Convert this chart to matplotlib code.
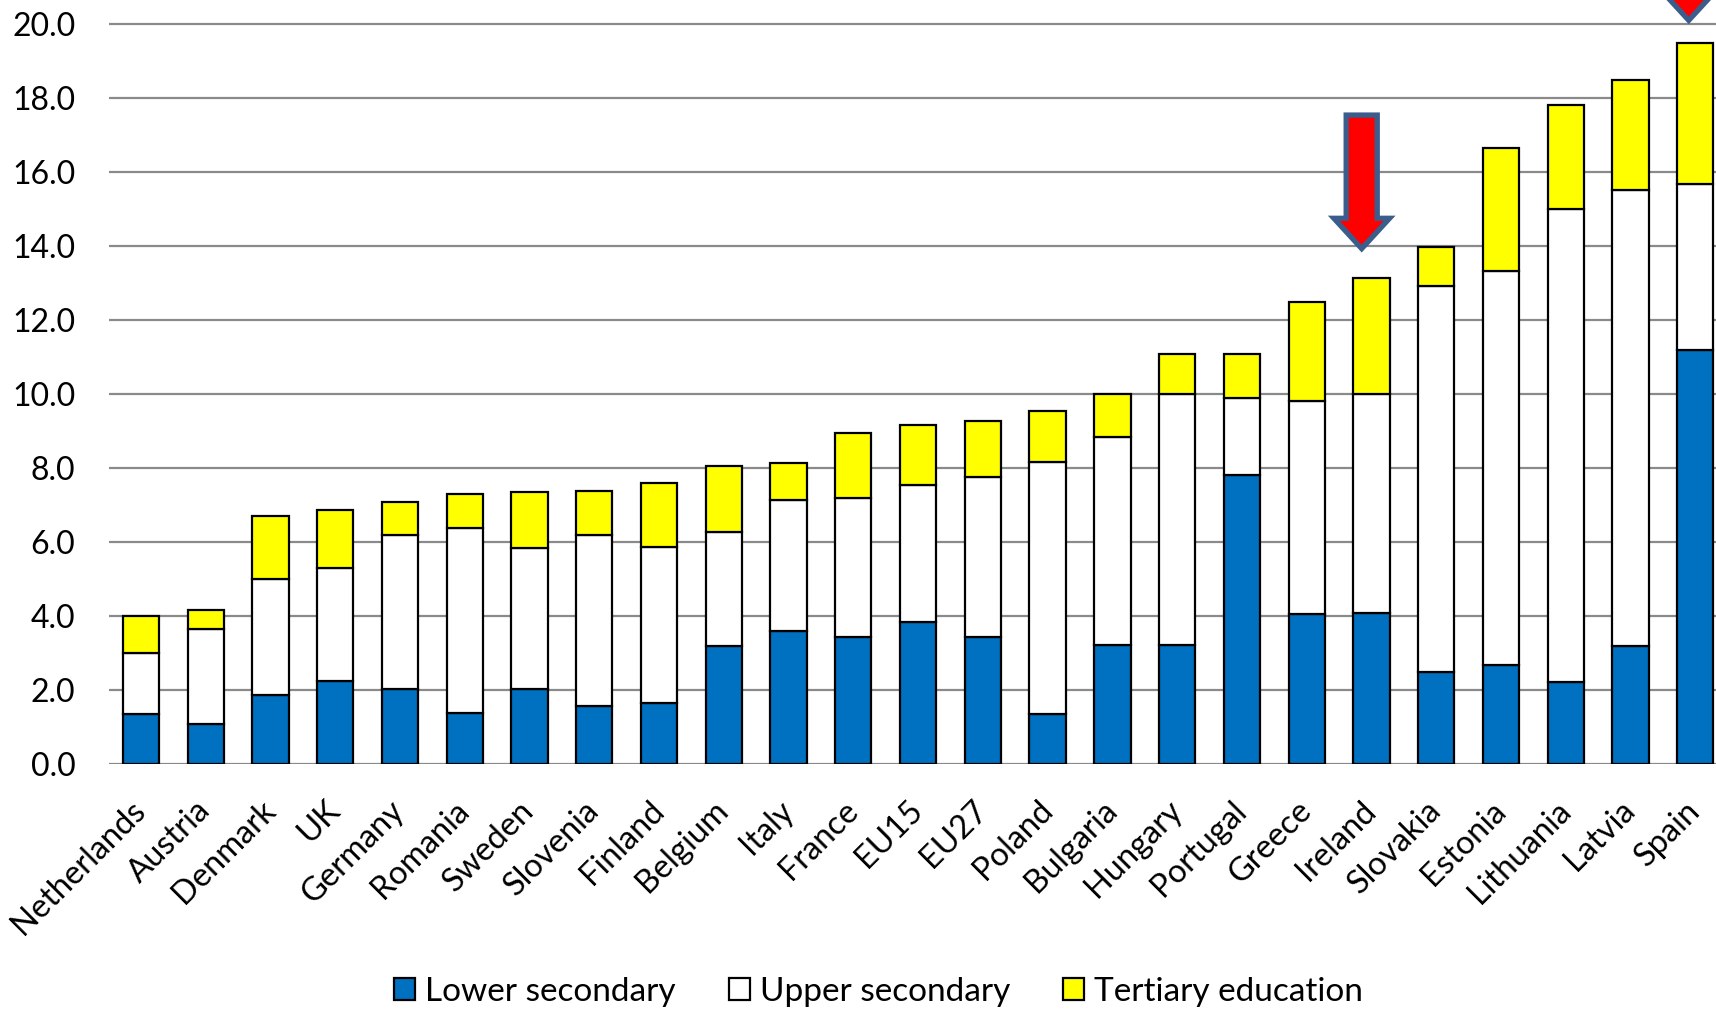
import matplotlib
matplotlib.use("Agg")
import matplotlib.pyplot as plt
from matplotlib.patches import Patch, Polygon

plt.rcParams['font.family'] = ['Lato', 'DejaVu Sans']

countries = ["Netherlands", "Austria", "Denmark", "UK", "Germany", "Romania",
             "Sweden", "Slovenia", "Finland", "Belgium", "Italy", "France",
             "EU15", "EU27", "Poland", "Bulgaria", "Hungary", "Portugal",
             "Greece", "Ireland", "Slovakia", "Estonia", "Lithuania", "Latvia",
             "Spain"]

# unemployment rate split by education level (stacked)
lower_secondary = [1.35, 1.08, 1.87, 2.24, 2.03, 1.39, 2.03, 1.56, 1.66, 3.18,
                   3.59, 3.43, 3.84, 3.43, 1.35, 3.22, 3.22, 7.80, 4.05, 4.08,
                   2.48, 2.67, 2.21, 3.20, 11.20]
upper_secondary = [1.65, 2.56, 3.12, 3.06, 4.16, 5.00, 3.81, 4.62, 4.21, 3.10,
                   3.54, 3.75, 3.71, 4.33, 6.81, 5.62, 6.77, 2.09, 5.77, 5.93,
                   10.44, 10.65, 12.78, 12.32, 4.48]
tertiary = [1.00, 0.52, 1.72, 1.57, 0.90, 0.90, 1.51, 1.20, 1.73, 1.78,
            1.00, 1.77, 1.61, 1.51, 1.37, 1.16, 1.10, 1.20, 2.68, 3.12,
            1.05, 3.34, 2.82, 2.97, 3.81]

series_names = ["Lower secondary", "Upper secondary", "Tertiary education"]
series_colors = ["#0070C0", "#FFFFFF", "#FFFF00"]

# highlighted bars: (category, x offset, tip, head base, shaft top)
arrows = [("Ireland", -0.15, 13.93, 14.75, 17.54),
          ("Spain", -0.10, 20.10, 20.92, 24.0)]

fig = plt.figure(figsize=(17.16, 10.09), dpi=100)
ax = fig.add_axes([108.6 / 1716, 245 / 1009, 1619 / 1716, 764 / 1009])

x = list(range(len(countries)))
bottom = [0.0] * len(countries)
for vals, name, col in zip([lower_secondary, upper_secondary, tertiary],
                           series_names, series_colors):
    ax.bar(x, vals, bottom=bottom, width=0.56, color=col, edgecolor="black",
           linewidth=1.6, label=name, zorder=3)
    bottom = [b + v for b, v in zip(bottom, vals)]

ax.set_xlim(-0.5, len(countries) - 0.5)
ax.set_ylim(0, 20.65)
ax.set_yticks([i * 2 for i in range(11)])
ax.set_yticklabels([f"{i * 2:.1f}" for i in range(11)])
ax.yaxis.grid(True, color="#8A8A8A", linewidth=1.6, zorder=0)
ax.set_axisbelow(True)
for s in ax.spines.values():
    s.set_visible(False)
ax.axhline(0, color="#8A8A8A", linewidth=2, zorder=2)

ax.tick_params(axis="y", length=0, pad=24, labelsize=23)
ax.tick_params(axis="x", length=0, pad=30, labelsize=23.5)
ax.set_xticks(x)
ax.set_xticklabels(countries, rotation=45, ha="right", va="center",
                   rotation_mode="anchor")

# down arrows pointing at the highlighted countries
for name, dx, tip, base, top in arrows:
    cx = countries.index(name) + dx
    sw, hw = 0.24, 0.43
    pts = [(cx - sw, top), (cx + sw, top), (cx + sw, base), (cx + hw, base),
           (cx, tip), (cx - hw, base), (cx - sw, base)]
    ax.add_patch(Polygon(pts, closed=True, facecolor="#FF0000",
                         edgecolor="#3B5D8C", linewidth=3.8,
                         joinstyle="miter", clip_on=False, zorder=5))

handles = [Patch(facecolor=c, edgecolor="black", linewidth=1.6) for c in series_colors]
fig.legend(handles, series_names, loc="center", bbox_to_anchor=(0.512, 0.017),
           ncol=3, frameon=False, fontsize=24, handlelength=0.62,
           handleheight=0.65, handletextpad=0.3, columnspacing=1.6,
           borderpad=0)

fig.savefig("out.png", dpi=100)
